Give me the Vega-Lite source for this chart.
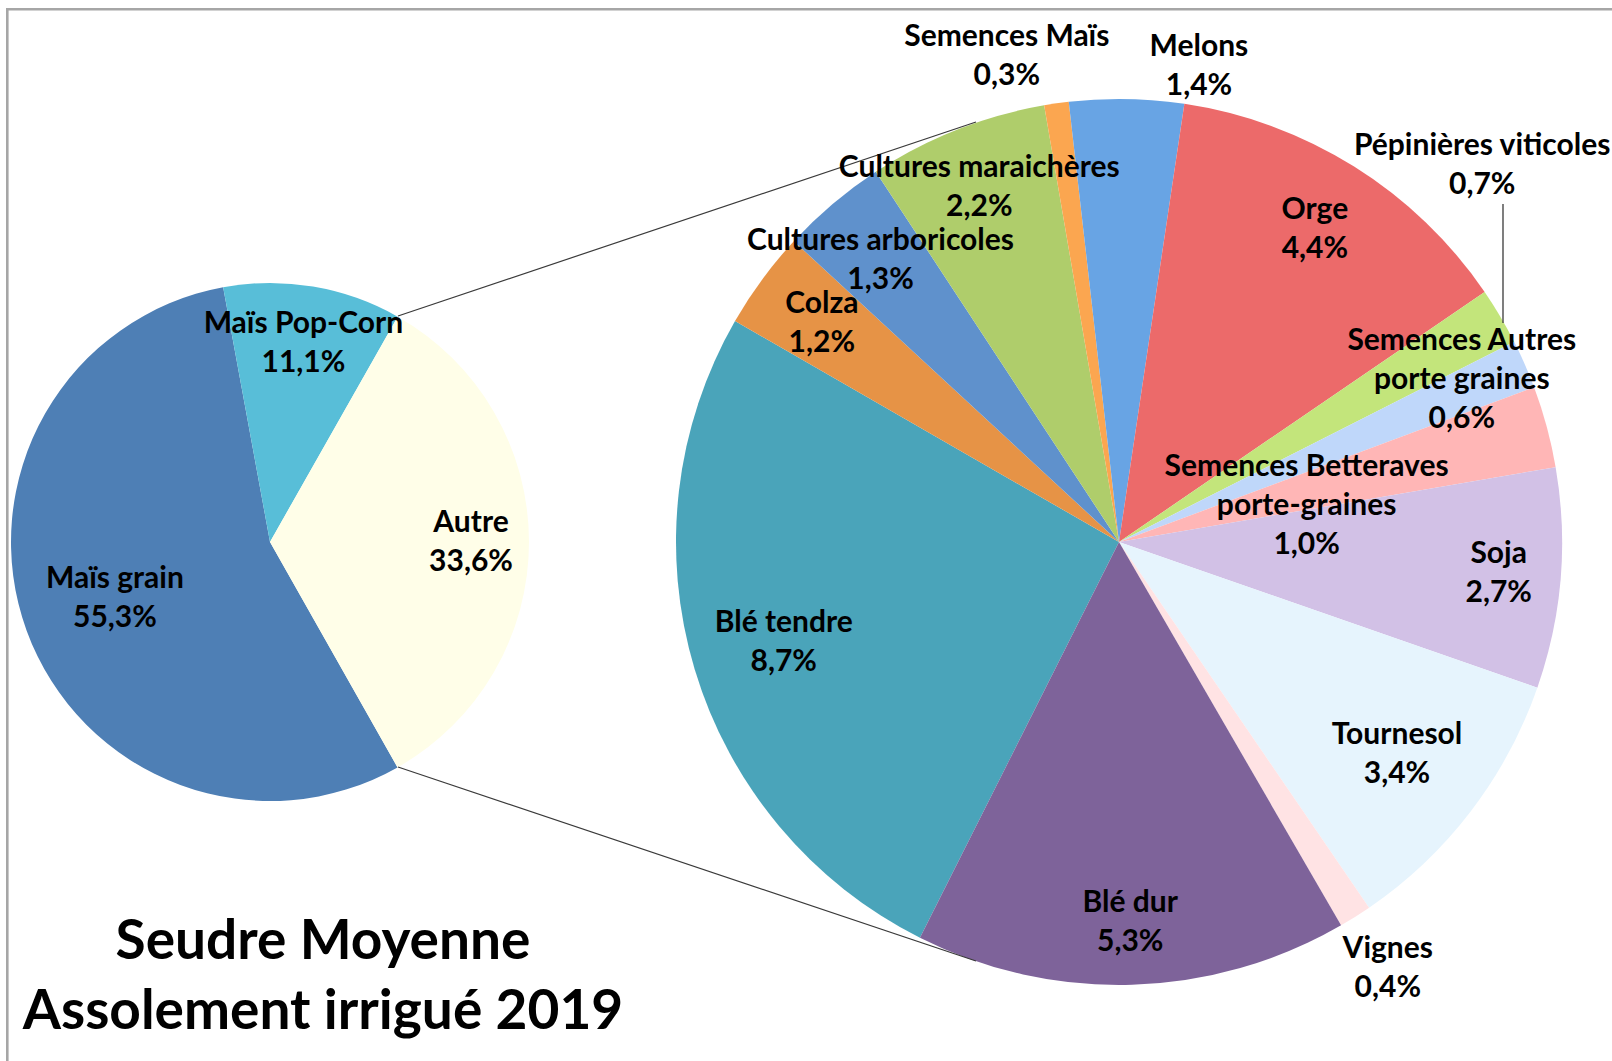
{
  "$schema": "https://vega.github.io/schema/vega-lite/v6.json",
  "width": 1605,
  "height": 1052,
  "padding": {"left": 7, "top": 9, "right": 0, "bottom": 0},
  "autosize": {"type": "none"},
  "background": "white",
  "config": {"view": {"stroke": null}},
  "datasets": {
    "ensemble": [
      {"nom": "Maïs grain", "part": 55.3, "ordre": 1},
      {"nom": "Maïs Pop-Corn", "part": 11.1, "ordre": 2},
      {"nom": "Autre", "part": 33.6, "ordre": 3}
    ],
    "autre": [
      {"nom": "Blé tendre", "part": 8.7, "ordre": 1},
      {"nom": "Colza", "part": 1.2, "ordre": 2},
      {"nom": "Cultures arboricoles", "part": 1.3, "ordre": 3},
      {"nom": "Cultures maraichères", "part": 2.2, "ordre": 4},
      {"nom": "Semences Maïs", "part": 0.3, "ordre": 5},
      {"nom": "Melons", "part": 1.4, "ordre": 6},
      {"nom": "Orge", "part": 4.4, "ordre": 7},
      {"nom": "Pépinières viticoles", "part": 0.7, "ordre": 8},
      {"nom": "Semences Autres porte graines", "part": 0.6, "ordre": 9},
      {"nom": "Semences Betteraves porte-graines", "part": 1.0, "ordre": 10},
      {"nom": "Soja", "part": 2.7, "ordre": 11},
      {"nom": "Tournesol", "part": 3.4, "ordre": 12},
      {"nom": "Vignes", "part": 0.4, "ordre": 13},
      {"nom": "Blé dur", "part": 5.3, "ordre": 14}
    ],
    "titre": [{"texte": "Seudre Moyenne\nAssolement irrigué 2019"}]
  },
  "resolve": {"scale": {"theta": "independent"}},
  "layer": [
    {
      "data": {"values": [{}]},
      "mark": {"type": "rule", "color": "#A6A6A6", "strokeWidth": 2.6},
      "encoding": {
        "x": {"datum": 6, "type": "quantitative", "scale": {"domain": [7, 1612], "nice": false, "zero": false}, "axis": null},
        "y": {"datum": 9.3, "type": "quantitative", "scale": {"domain": [9, 1061], "nice": false, "zero": false, "reverse": true}, "axis": null},
        "x2": {"datum": 1612}
      }
    },
    {
      "data": {"values": [{}]},
      "mark": {"type": "rule", "color": "#A6A6A6", "strokeWidth": 2.6},
      "encoding": {
        "x": {"datum": 7.3, "type": "quantitative", "scale": {"domain": [7, 1612], "nice": false, "zero": false}, "axis": null},
        "y": {"datum": 8, "type": "quantitative", "scale": {"domain": [9, 1061], "nice": false, "zero": false, "reverse": true}, "axis": null},
        "y2": {"datum": 1061}
      }
    },
    {
      "data": {"name": "ensemble"},
      "transform": [{"stack": "part", "groupby": [], "sort": [{"field": "ordre", "order": "ascending"}], "as": ["debut", "fin"]}],
      "mark": {"type": "arc", "radius": 259},
      "encoding": {
        "x": {"datum": 270, "type": "quantitative", "scale": {"domain": [7, 1612], "nice": false, "zero": false}, "axis": null},
        "y": {"datum": 542, "type": "quantitative", "scale": {"domain": [9, 1061], "nice": false, "zero": false, "reverse": true}, "axis": null},
        "theta": {"field": "debut", "type": "quantitative", "stack": null, "scale": {"domain": [0, 100], "range": [2.62672, 8.90990]}},
        "theta2": {"field": "fin"},
        "color": {"field": "nom", "type": "nominal", "legend": null,
          "scale": {
            "domain": ["Maïs grain", "Maïs Pop-Corn", "Autre", "Blé tendre", "Colza", "Cultures arboricoles", "Cultures maraichères", "Semences Maïs", "Melons", "Orge", "Pépinières viticoles", "Semences Autres porte graines", "Semences Betteraves porte-graines", "Soja", "Tournesol", "Vignes", "Blé dur"],
            "range": ["#4E7FB5", "#58BED8", "#FFFEE8", "#4AA4BA", "#E69346", "#5F91CC", "#AFCD6B", "#FBA650", "#68A4E4", "#EC6A6A", "#C3E57B", "#BFD7FA", "#FFB6B6", "#D2C1E6", "#E6F4FD", "#FFE3E4", "#7E639A"]
          }}
      }
    },
    {
      "data": {"name": "autre"},
      "transform": [{"stack": "part", "groupby": [], "sort": [{"field": "ordre", "order": "ascending"}], "as": ["debut", "fin"]}],
      "mark": {"type": "arc", "radius": 443},
      "encoding": {
        "x": {"datum": 1119, "type": "quantitative", "scale": {"domain": [7, 1612], "nice": false, "zero": false}, "axis": null},
        "y": {"datum": 542, "type": "quantitative", "scale": {"domain": [9, 1061], "nice": false, "zero": false, "reverse": true}, "axis": null},
        "theta": {"field": "debut", "type": "quantitative", "stack": null, "scale": {"domain": [0, 33.6], "range": [3.60760, 9.89079]}},
        "theta2": {"field": "fin"},
        "color": {"field": "nom", "type": "nominal", "legend": null,
          "scale": {
            "domain": ["Maïs grain", "Maïs Pop-Corn", "Autre", "Blé tendre", "Colza", "Cultures arboricoles", "Cultures maraichères", "Semences Maïs", "Melons", "Orge", "Pépinières viticoles", "Semences Autres porte graines", "Semences Betteraves porte-graines", "Soja", "Tournesol", "Vignes", "Blé dur"],
            "range": ["#4E7FB5", "#58BED8", "#FFFEE8", "#4AA4BA", "#E69346", "#5F91CC", "#AFCD6B", "#FBA650", "#68A4E4", "#EC6A6A", "#C3E57B", "#BFD7FA", "#FFB6B6", "#D2C1E6", "#E6F4FD", "#FFE3E4", "#7E639A"]
          }}
      }
    },
    {
      "data": {"values": [{}]},
      "mark": {"type": "rule", "color": "#3A3A3A", "strokeWidth": 1.2},
      "encoding": {
        "x": {"datum": 398, "type": "quantitative", "scale": {"domain": [7, 1612], "nice": false, "zero": false}, "axis": null},
        "y": {"datum": 316, "type": "quantitative", "scale": {"domain": [9, 1061], "nice": false, "zero": false, "reverse": true}, "axis": null},
        "x2": {"datum": 976},
        "y2": {"datum": 122}
      }
    },
    {
      "data": {"values": [{}]},
      "mark": {"type": "rule", "color": "#3A3A3A", "strokeWidth": 1.2},
      "encoding": {
        "x": {"datum": 398, "type": "quantitative", "scale": {"domain": [7, 1612], "nice": false, "zero": false}, "axis": null},
        "y": {"datum": 767, "type": "quantitative", "scale": {"domain": [9, 1061], "nice": false, "zero": false, "reverse": true}, "axis": null},
        "x2": {"datum": 976},
        "y2": {"datum": 961}
      }
    },
    {
      "data": {"values": [{}]},
      "mark": {"type": "rule", "color": "#3A3A3A", "strokeWidth": 1.3},
      "encoding": {
        "x": {"datum": 1503, "type": "quantitative", "scale": {"domain": [7, 1612], "nice": false, "zero": false}, "axis": null},
        "y": {"datum": 204, "type": "quantitative", "scale": {"domain": [9, 1061], "nice": false, "zero": false, "reverse": true}, "axis": null},
        "y2": {"datum": 323}
      }
    },
    {
      "data": {"name": "ensemble"},
      "transform": [
        {"stack": "part", "groupby": [], "sort": [{"field": "ordre", "order": "ascending"}], "as": ["debut", "fin"]},
        {"calculate": "(datum.debut + datum.fin) / 2", "as": "milieu"},
        {"calculate": "datum.nom + '\\n' + replace(format(datum.part, '.1f'), '.', ',') + '%'", "as": "etiquette"},
        {"filter": {"field": "nom", "oneOf": ["Maïs Pop-Corn", "Autre"]}}
      ],
      "mark": {"type": "text", "radius": 201, "dy": -19.5, "font": "Lato", "fontWeight": "bold", "fontSize": 30, "lineBreak": "\n", "lineHeight": 39, "align": "center", "baseline": "middle", "color": "#000000"},
      "encoding": {
        "x": {"datum": 270, "type": "quantitative", "scale": {"domain": [7, 1612], "nice": false, "zero": false}, "axis": null},
        "y": {"datum": 542, "type": "quantitative", "scale": {"domain": [9, 1061], "nice": false, "zero": false, "reverse": true}, "axis": null},
        "theta": {"field": "milieu", "type": "quantitative", "stack": null, "scale": {"domain": [0, 100], "range": [2.62672, 8.90990]}},
        "text": {"field": "etiquette", "type": "nominal"}
      }
    },
    {
      "data": {"name": "ensemble"},
      "transform": [
        {"stack": "part", "groupby": [], "sort": [{"field": "ordre", "order": "ascending"}], "as": ["debut", "fin"]},
        {"calculate": "(datum.debut + datum.fin) / 2", "as": "milieu"},
        {"calculate": "datum.nom + '\\n' + replace(format(datum.part, '.1f'), '.', ',') + '%'", "as": "etiquette"},
        {"filter": {"field": "nom", "equal": "Maïs grain"}}
      ],
      "mark": {"type": "text", "radius": 165, "dy": -19.5, "font": "Lato", "fontWeight": "bold", "fontSize": 30, "lineBreak": "\n", "lineHeight": 39, "align": "center", "baseline": "middle", "color": "#000000"},
      "encoding": {
        "x": {"datum": 270, "type": "quantitative", "scale": {"domain": [7, 1612], "nice": false, "zero": false}, "axis": null},
        "y": {"datum": 542, "type": "quantitative", "scale": {"domain": [9, 1061], "nice": false, "zero": false, "reverse": true}, "axis": null},
        "theta": {"field": "milieu", "type": "quantitative", "stack": null, "scale": {"domain": [0, 100], "range": [2.62672, 8.90990]}},
        "text": {"field": "etiquette", "type": "nominal"}
      }
    },
    {
      "data": {"name": "autre"},
      "transform": [
        {"stack": "part", "groupby": [], "sort": [{"field": "ordre", "order": "ascending"}], "as": ["debut", "fin"]},
        {"calculate": "(datum.debut + datum.fin) / 2", "as": "milieu"},
        {"calculate": "replace(datum.nom, ' porte', '\\nporte') + '\\n' + replace(format(datum.part, '.1f'), '.', ',') + '%'", "as": "etiquette"},
        {"filter": {"field": "nom", "oneOf": ["Colza", "Cultures arboricoles", "Orge"]}}
      ],
      "mark": {"type": "text", "radius": 369, "dy": -19.5, "font": "Lato", "fontWeight": "bold", "fontSize": 30, "lineBreak": "\n", "lineHeight": 39, "align": "center", "baseline": "middle", "color": "#000000"},
      "encoding": {
        "x": {"datum": 1119, "type": "quantitative", "scale": {"domain": [7, 1612], "nice": false, "zero": false}, "axis": null},
        "y": {"datum": 542, "type": "quantitative", "scale": {"domain": [9, 1061], "nice": false, "zero": false, "reverse": true}, "axis": null},
        "theta": {"field": "milieu", "type": "quantitative", "stack": null, "scale": {"domain": [0, 33.6], "range": [3.60760, 9.89079]}},
        "text": {"field": "etiquette", "type": "nominal"}
      }
    },
    {
      "data": {"name": "autre"},
      "transform": [
        {"stack": "part", "groupby": [], "sort": [{"field": "ordre", "order": "ascending"}], "as": ["debut", "fin"]},
        {"calculate": "(datum.debut + datum.fin) / 2", "as": "milieu"},
        {"calculate": "replace(datum.nom, ' porte', '\\nporte') + '\\n' + replace(format(datum.part, '.1f'), '.', ',') + '%'", "as": "etiquette"},
        {"filter": {"field": "nom", "oneOf": ["Cultures maraichères", "Soja", "Blé dur"]}}
      ],
      "mark": {"type": "text", "radius": 381, "dy": -19.5, "font": "Lato", "fontWeight": "bold", "fontSize": 30, "lineBreak": "\n", "lineHeight": 39, "align": "center", "baseline": "middle", "color": "#000000"},
      "encoding": {
        "x": {"datum": 1119, "type": "quantitative", "scale": {"domain": [7, 1612], "nice": false, "zero": false}, "axis": null},
        "y": {"datum": 542, "type": "quantitative", "scale": {"domain": [9, 1061], "nice": false, "zero": false, "reverse": true}, "axis": null},
        "theta": {"field": "milieu", "type": "quantitative", "stack": null, "scale": {"domain": [0, 33.6], "range": [3.60760, 9.89079]}},
        "text": {"field": "etiquette", "type": "nominal"}
      }
    },
    {
      "data": {"name": "autre"},
      "transform": [
        {"stack": "part", "groupby": [], "sort": [{"field": "ordre", "order": "ascending"}], "as": ["debut", "fin"]},
        {"calculate": "(datum.debut + datum.fin) / 2 - 0.149", "as": "milieu"},
        {"calculate": "replace(datum.nom, ' porte', '\\nporte') + '\\n' + replace(format(datum.part, '.1f'), '.', ',') + '%'", "as": "etiquette"},
        {"filter": {"field": "nom", "equal": "Semences Autres porte graines"}}
      ],
      "mark": {"type": "text", "radius": 379, "dy": -39, "font": "Lato", "fontWeight": "bold", "fontSize": 30, "lineBreak": "\n", "lineHeight": 39, "align": "center", "baseline": "middle", "color": "#000000"},
      "encoding": {
        "x": {"datum": 1119, "type": "quantitative", "scale": {"domain": [7, 1612], "nice": false, "zero": false}, "axis": null},
        "y": {"datum": 542, "type": "quantitative", "scale": {"domain": [9, 1061], "nice": false, "zero": false, "reverse": true}, "axis": null},
        "theta": {"field": "milieu", "type": "quantitative", "stack": null, "scale": {"domain": [0, 33.6], "range": [3.60760, 9.89079]}},
        "text": {"field": "etiquette", "type": "nominal"}
      }
    },
    {
      "data": {"name": "autre"},
      "transform": [
        {"stack": "part", "groupby": [], "sort": [{"field": "ordre", "order": "ascending"}], "as": ["debut", "fin"]},
        {"calculate": "(datum.debut + datum.fin) / 2", "as": "milieu"},
        {"calculate": "replace(datum.nom, ' porte', '\\nporte') + '\\n' + replace(format(datum.part, '.1f'), '.', ',') + '%'", "as": "etiquette"},
        {"filter": {"field": "nom", "oneOf": ["Blé tendre", "Tournesol"]}}
      ],
      "mark": {"type": "text", "radius": 350, "dy": -19.5, "font": "Lato", "fontWeight": "bold", "fontSize": 30, "lineBreak": "\n", "lineHeight": 39, "align": "center", "baseline": "middle", "color": "#000000"},
      "encoding": {
        "x": {"datum": 1119, "type": "quantitative", "scale": {"domain": [7, 1612], "nice": false, "zero": false}, "axis": null},
        "y": {"datum": 542, "type": "quantitative", "scale": {"domain": [9, 1061], "nice": false, "zero": false, "reverse": true}, "axis": null},
        "theta": {"field": "milieu", "type": "quantitative", "stack": null, "scale": {"domain": [0, 33.6], "range": [3.60760, 9.89079]}},
        "text": {"field": "etiquette", "type": "nominal"}
      }
    },
    {
      "data": {"name": "autre"},
      "transform": [
        {"stack": "part", "groupby": [], "sort": [{"field": "ordre", "order": "ascending"}], "as": ["debut", "fin"]},
        {"calculate": "(datum.debut + datum.fin) / 2", "as": "milieu"},
        {"calculate": "replace(datum.nom, ' porte', '\\nporte') + '\\n' + replace(format(datum.part, '.1f'), '.', ',') + '%'", "as": "etiquette"},
        {"filter": {"field": "nom", "equal": "Vignes"}}
      ],
      "mark": {"type": "text", "radius": 504, "dy": -19.5, "font": "Lato", "fontWeight": "bold", "fontSize": 30, "lineBreak": "\n", "lineHeight": 39, "align": "center", "baseline": "middle", "color": "#000000"},
      "encoding": {
        "x": {"datum": 1119, "type": "quantitative", "scale": {"domain": [7, 1612], "nice": false, "zero": false}, "axis": null},
        "y": {"datum": 542, "type": "quantitative", "scale": {"domain": [9, 1061], "nice": false, "zero": false, "reverse": true}, "axis": null},
        "theta": {"field": "milieu", "type": "quantitative", "stack": null, "scale": {"domain": [0, 33.6], "range": [3.60760, 9.89079]}},
        "text": {"field": "etiquette", "type": "nominal"}
      }
    },
    {
      "data": {"name": "autre"},
      "transform": [
        {"stack": "part", "groupby": [], "sort": [{"field": "ordre", "order": "ascending"}], "as": ["debut", "fin"]},
        {"calculate": "(datum.debut + datum.fin) / 2 - 0.457", "as": "milieu"},
        {"calculate": "replace(datum.nom, ' porte', '\\nporte') + '\\n' + replace(format(datum.part, '.1f'), '.', ',') + '%'", "as": "etiquette"},
        {"filter": {"field": "nom", "equal": "Semences Maïs"}}
      ],
      "mark": {"type": "text", "radius": 498, "dy": -19.5, "font": "Lato", "fontWeight": "bold", "fontSize": 30, "lineBreak": "\n", "lineHeight": 39, "align": "center", "baseline": "middle", "color": "#000000"},
      "encoding": {
        "x": {"datum": 1119, "type": "quantitative", "scale": {"domain": [7, 1612], "nice": false, "zero": false}, "axis": null},
        "y": {"datum": 542, "type": "quantitative", "scale": {"domain": [9, 1061], "nice": false, "zero": false, "reverse": true}, "axis": null},
        "theta": {"field": "milieu", "type": "quantitative", "stack": null, "scale": {"domain": [0, 33.6], "range": [3.60760, 9.89079]}},
        "text": {"field": "etiquette", "type": "nominal"}
      }
    },
    {
      "data": {"name": "autre"},
      "transform": [
        {"stack": "part", "groupby": [], "sort": [{"field": "ordre", "order": "ascending"}], "as": ["debut", "fin"]},
        {"calculate": "(datum.debut + datum.fin) / 2 + 0.799", "as": "milieu"},
        {"calculate": "replace(datum.nom, ' porte', '\\nporte') + '\\n' + replace(format(datum.part, '.1f'), '.', ',') + '%'", "as": "etiquette"},
        {"filter": {"field": "nom", "equal": "Melons"}}
      ],
      "mark": {"type": "text", "radius": 482, "dy": -19.5, "font": "Lato", "fontWeight": "bold", "fontSize": 30, "lineBreak": "\n", "lineHeight": 39, "align": "center", "baseline": "middle", "color": "#000000"},
      "encoding": {
        "x": {"datum": 1119, "type": "quantitative", "scale": {"domain": [7, 1612], "nice": false, "zero": false}, "axis": null},
        "y": {"datum": 542, "type": "quantitative", "scale": {"domain": [9, 1061], "nice": false, "zero": false, "reverse": true}, "axis": null},
        "theta": {"field": "milieu", "type": "quantitative", "stack": null, "scale": {"domain": [0, 33.6], "range": [3.60760, 9.89079]}},
        "text": {"field": "etiquette", "type": "nominal"}
      }
    },
    {
      "data": {"name": "autre"},
      "transform": [
        {"stack": "part", "groupby": [], "sort": [{"field": "ordre", "order": "ascending"}], "as": ["debut", "fin"]},
        {"calculate": "(datum.debut + datum.fin) / 2 - 1.437", "as": "milieu"},
        {"calculate": "replace(datum.nom, ' porte', '\\nporte') + '\\n' + replace(format(datum.part, '.1f'), '.', ',') + '%'", "as": "etiquette"},
        {"filter": {"field": "nom", "equal": "Pépinières viticoles"}}
      ],
      "mark": {"type": "text", "radius": 523, "dy": -19.5, "font": "Lato", "fontWeight": "bold", "fontSize": 30, "lineBreak": "\n", "lineHeight": 39, "align": "center", "baseline": "middle", "color": "#000000"},
      "encoding": {
        "x": {"datum": 1119, "type": "quantitative", "scale": {"domain": [7, 1612], "nice": false, "zero": false}, "axis": null},
        "y": {"datum": 542, "type": "quantitative", "scale": {"domain": [9, 1061], "nice": false, "zero": false, "reverse": true}, "axis": null},
        "theta": {"field": "milieu", "type": "quantitative", "stack": null, "scale": {"domain": [0, 33.6], "range": [3.60760, 9.89079]}},
        "text": {"field": "etiquette", "type": "nominal"}
      }
    },
    {
      "data": {"name": "autre"},
      "transform": [
        {"stack": "part", "groupby": [], "sort": [{"field": "ordre", "order": "ascending"}], "as": ["debut", "fin"]},
        {"calculate": "(datum.debut + datum.fin) / 2 + 0.401", "as": "milieu"},
        {"calculate": "replace(datum.nom, ' porte', '\\nporte') + '\\n' + replace(format(datum.part, '.1f'), '.', ',') + '%'", "as": "etiquette"},
        {"filter": {"field": "nom", "equal": "Semences Betteraves porte-graines"}}
      ],
      "mark": {"type": "text", "radius": 191, "dy": -39, "font": "Lato", "fontWeight": "bold", "fontSize": 30, "lineBreak": "\n", "lineHeight": 39, "align": "center", "baseline": "middle", "color": "#000000"},
      "encoding": {
        "x": {"datum": 1119, "type": "quantitative", "scale": {"domain": [7, 1612], "nice": false, "zero": false}, "axis": null},
        "y": {"datum": 542, "type": "quantitative", "scale": {"domain": [9, 1061], "nice": false, "zero": false, "reverse": true}, "axis": null},
        "theta": {"field": "milieu", "type": "quantitative", "stack": null, "scale": {"domain": [0, 33.6], "range": [3.60760, 9.89079]}},
        "text": {"field": "etiquette", "type": "nominal"}
      }
    },
    {
      "data": {"name": "titre"},
      "mark": {"type": "text", "font": "Lato", "fontWeight": "bold", "fontSize": 55, "lineBreak": "\n", "lineHeight": 70, "align": "center", "baseline": "alphabetic", "color": "#000000"},
      "encoding": {
        "x": {"datum": 323, "type": "quantitative", "scale": {"domain": [7, 1612], "nice": false, "zero": false}, "axis": null},
        "y": {"datum": 959, "type": "quantitative", "scale": {"domain": [9, 1061], "nice": false, "zero": false, "reverse": true}, "axis": null},
        "text": {"field": "texte", "type": "nominal"}
      }
    }
  ]
}
